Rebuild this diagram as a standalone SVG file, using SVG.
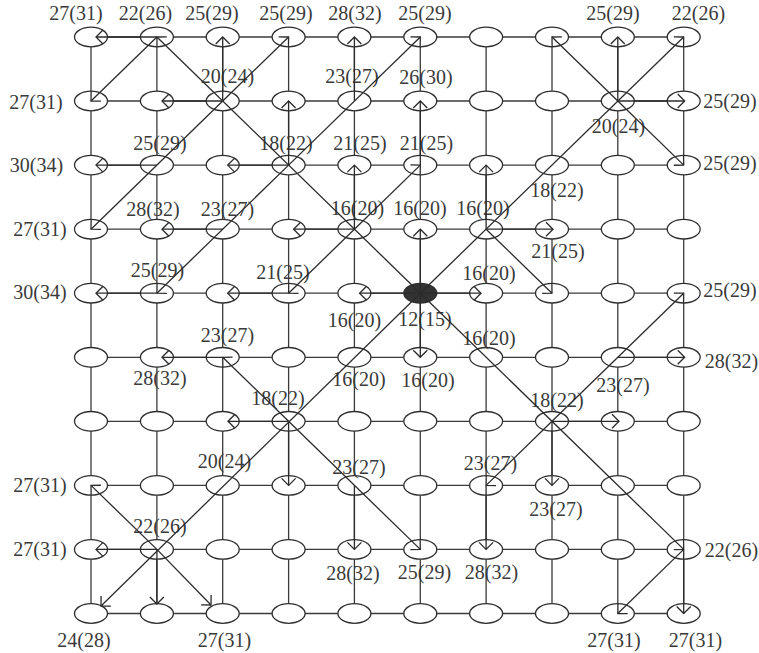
<svg xmlns="http://www.w3.org/2000/svg" width="759" height="653" viewBox="0 0 759 653">
<style>
.g{stroke:#3a3a3a;stroke-width:1.3;fill:none}
.n{fill:#fff;stroke:#2e2e2e;stroke-width:1.3}
.src{fill:#333;stroke:#2e2e2e;stroke-width:1.3}
.a{stroke:#2b2b2b;stroke-width:1.3;fill:none;marker-end:url(#ah)}
.t{font-family:"Liberation Serif","Times New Roman",serif;font-size:20px;fill:#3a3a3a;text-anchor:middle}
</style>
<defs>
<marker id="ah" markerUnits="userSpaceOnUse" markerWidth="20" markerHeight="20" viewBox="-10 -10 20 20" refX="0" refY="0" orient="auto" overflow="visible"><path d="M-7,-7 L0,0 L-7,7" fill="none" stroke="#2b2b2b" stroke-width="1.3"/></marker>
<ellipse id="e" rx="16.5" ry="9.8"/>
</defs>
<g id="connectors-grid">
<line class="g" x1="91" y1="37" x2="683.7" y2="37"/>
<line class="g" x1="91" y1="101" x2="683.7" y2="101"/>
<line class="g" x1="91" y1="165.1" x2="683.7" y2="165.1"/>
<line class="g" x1="91" y1="229.2" x2="683.7" y2="229.2"/>
<line class="g" x1="91" y1="293.2" x2="683.7" y2="293.2"/>
<line class="g" x1="91" y1="357.3" x2="683.7" y2="357.3"/>
<line class="g" x1="91" y1="421.3" x2="683.7" y2="421.3"/>
<line class="g" x1="91" y1="485.4" x2="683.7" y2="485.4"/>
<line class="g" x1="91" y1="549.4" x2="683.7" y2="549.4"/>
<line class="g" x1="91" y1="613.5" x2="683.7" y2="613.5"/>
<line class="g" x1="91" y1="37" x2="91" y2="613.5"/>
<line class="g" x1="156.9" y1="37" x2="156.9" y2="613.5"/>
<line class="g" x1="222.7" y1="37" x2="222.7" y2="613.5"/>
<line class="g" x1="288.6" y1="37" x2="288.6" y2="613.5"/>
<line class="g" x1="354.4" y1="37" x2="354.4" y2="613.5"/>
<line class="g" x1="420.3" y1="37" x2="420.3" y2="613.5"/>
<line class="g" x1="486.1" y1="37" x2="486.1" y2="613.5"/>
<line class="g" x1="552" y1="37" x2="552" y2="613.5"/>
<line class="g" x1="617.8" y1="37" x2="617.8" y2="613.5"/>
<line class="g" x1="683.7" y1="37" x2="683.7" y2="613.5"/>
</g>
<g id="nodes">
<g id="n1_1"><use href="#e" class="n" x="91" y="37"/><text class="t" x="76" y="20">27(31)</text></g>
<g id="n2_1"><use href="#e" class="n" x="156.9" y="37"/><text class="t" x="145.5" y="20">22(26)</text></g>
<g id="n3_1"><use href="#e" class="n" x="222.7" y="37"/><text class="t" x="212" y="20">25(29)</text></g>
<g id="n4_1"><use href="#e" class="n" x="288.6" y="37"/><text class="t" x="286" y="20">25(29)</text></g>
<g id="n5_1"><use href="#e" class="n" x="354.4" y="37"/><text class="t" x="355" y="20">28(32)</text></g>
<g id="n6_1"><use href="#e" class="n" x="420.3" y="37"/><text class="t" x="425" y="20">25(29)</text></g>
<g id="n7_1"><use href="#e" class="n" x="486.1" y="37"/></g>
<g id="n8_1"><use href="#e" class="n" x="552" y="37"/></g>
<g id="n9_1"><use href="#e" class="n" x="617.8" y="37"/><text class="t" x="613" y="20">25(29)</text></g>
<g id="n10_1"><use href="#e" class="n" x="683.7" y="37"/><text class="t" x="698.5" y="20">22(26)</text></g>

<g id="n1_2"><use href="#e" class="n" x="91" y="101"/><text class="t" x="36" y="109">27(31)</text></g>
<g id="n2_2"><use href="#e" class="n" x="156.9" y="101"/></g>
<g id="n3_2"><use href="#e" class="n" x="222.7" y="101"/><text class="t" x="227.5" y="83">20(24)</text></g>
<g id="n4_2"><use href="#e" class="n" x="288.6" y="101"/></g>
<g id="n5_2"><use href="#e" class="n" x="354.4" y="101"/><text class="t" x="352" y="83">23(27)</text></g>
<g id="n6_2"><use href="#e" class="n" x="420.3" y="101"/><text class="t" x="426" y="84">26(30)</text></g>
<g id="n7_2"><use href="#e" class="n" x="486.1" y="101"/></g>
<g id="n8_2"><use href="#e" class="n" x="552" y="101"/></g>
<g id="n9_2"><use href="#e" class="n" x="617.8" y="101"/><text class="t" x="618.5" y="133">20(24)</text></g>
<g id="n10_2"><use href="#e" class="n" x="683.7" y="101"/><text class="t" x="730" y="108">25(29)</text></g>

<g id="n1_3"><use href="#e" class="n" x="91" y="165.1"/><text class="t" x="36.5" y="172">30(34)</text></g>
<g id="n2_3"><use href="#e" class="n" x="156.9" y="165.1"/><text class="t" x="160" y="150">25(29)</text></g>
<g id="n3_3"><use href="#e" class="n" x="222.7" y="165.1"/></g>
<g id="n4_3"><use href="#e" class="n" x="288.6" y="165.1"/><text class="t" x="286" y="150">18(22)</text></g>
<g id="n5_3"><use href="#e" class="n" x="354.4" y="165.1"/><text class="t" x="360" y="150">21(25)</text></g>
<g id="n6_3"><use href="#e" class="n" x="420.3" y="165.1"/><text class="t" x="426.5" y="150">21(25)</text></g>
<g id="n7_3"><use href="#e" class="n" x="486.1" y="165.1"/></g>
<g id="n8_3"><use href="#e" class="n" x="552" y="165.1"/><text class="t" x="557" y="197">18(22)</text></g>
<g id="n9_3"><use href="#e" class="n" x="617.8" y="165.1"/></g>
<g id="n10_3"><use href="#e" class="n" x="683.7" y="165.1"/><text class="t" x="730" y="170">25(29)</text></g>

<g id="n1_4"><use href="#e" class="n" x="91" y="229.2"/><text class="t" x="40" y="236">27(31)</text></g>
<g id="n2_4"><use href="#e" class="n" x="156.9" y="229.2"/><text class="t" x="153" y="216">28(32)</text></g>
<g id="n3_4"><use href="#e" class="n" x="222.7" y="229.2"/><text class="t" x="227.5" y="216">23(27)</text></g>
<g id="n4_4"><use href="#e" class="n" x="288.6" y="229.2"/></g>
<g id="n5_4"><use href="#e" class="n" x="354.4" y="229.2"/><text class="t" x="357.5" y="215">16(20)</text></g>
<g id="n6_4"><use href="#e" class="n" x="420.3" y="229.2"/><text class="t" x="420" y="215">16(20)</text></g>
<g id="n7_4"><use href="#e" class="n" x="486.1" y="229.2"/><text class="t" x="483" y="215">16(20)</text></g>
<g id="n8_4"><use href="#e" class="n" x="552" y="229.2"/><text class="t" x="558" y="258">21(25)</text></g>
<g id="n9_4"><use href="#e" class="n" x="617.8" y="229.2"/></g>
<g id="n10_4"><use href="#e" class="n" x="683.7" y="229.2"/></g>

<g id="n1_5"><use href="#e" class="n" x="91" y="293.2"/><text class="t" x="40" y="299">30(34)</text></g>
<g id="n2_5"><use href="#e" class="n" x="156.9" y="293.2"/><text class="t" x="157.5" y="277">25(29)</text></g>
<g id="n3_5"><use href="#e" class="n" x="222.7" y="293.2"/></g>
<g id="n4_5"><use href="#e" class="n" x="288.6" y="293.2"/><text class="t" x="283" y="279">21(25)</text></g>
<g id="n5_5"><use href="#e" class="n" x="354.4" y="293.2"/><text class="t" x="354.5" y="327">16(20)</text></g>
<g id="n6_5"><use href="#e" class="src" x="420.3" y="293.2"/><text class="t" x="425" y="326">12(15)</text></g>
<g id="n7_5"><use href="#e" class="n" x="486.1" y="293.2"/><text class="t" x="489" y="280">16(20)</text></g>
<g id="n8_5"><use href="#e" class="n" x="552" y="293.2"/></g>
<g id="n9_5"><use href="#e" class="n" x="617.8" y="293.2"/></g>
<g id="n10_5"><use href="#e" class="n" x="683.7" y="293.2"/><text class="t" x="730" y="297">25(29)</text></g>

<g id="n1_6"><use href="#e" class="n" x="91" y="357.3"/></g>
<g id="n2_6"><use href="#e" class="n" x="156.9" y="357.3"/><text class="t" x="160" y="385">28(32)</text></g>
<g id="n3_6"><use href="#e" class="n" x="222.7" y="357.3"/><text class="t" x="227.5" y="342">23(27)</text></g>
<g id="n4_6"><use href="#e" class="n" x="288.6" y="357.3"/></g>
<g id="n5_6"><use href="#e" class="n" x="354.4" y="357.3"/><text class="t" x="359" y="386">16(20)</text></g>
<g id="n6_6"><use href="#e" class="n" x="420.3" y="357.3"/><text class="t" x="428" y="387">16(20)</text></g>
<g id="n7_6"><use href="#e" class="n" x="486.1" y="357.3"/><text class="t" x="489" y="345">16(20)</text></g>
<g id="n8_6"><use href="#e" class="n" x="552" y="357.3"/></g>
<g id="n9_6"><use href="#e" class="n" x="617.8" y="357.3"/><text class="t" x="623" y="392">23(27)</text></g>
<g id="n10_6"><use href="#e" class="n" x="683.7" y="357.3"/><text class="t" x="731.5" y="368">28(32)</text></g>

<g id="n1_7"><use href="#e" class="n" x="91" y="421.3"/></g>
<g id="n2_7"><use href="#e" class="n" x="156.9" y="421.3"/></g>
<g id="n3_7"><use href="#e" class="n" x="222.7" y="421.3"/></g>
<g id="n4_7"><use href="#e" class="n" x="288.6" y="421.3"/><text class="t" x="278" y="405">18(22)</text></g>
<g id="n5_7"><use href="#e" class="n" x="354.4" y="421.3"/></g>
<g id="n6_7"><use href="#e" class="n" x="420.3" y="421.3"/></g>
<g id="n7_7"><use href="#e" class="n" x="486.1" y="421.3"/></g>
<g id="n8_7"><use href="#e" class="n" x="552" y="421.3"/><text class="t" x="557" y="407">18(22)</text></g>
<g id="n9_7"><use href="#e" class="n" x="617.8" y="421.3"/></g>
<g id="n10_7"><use href="#e" class="n" x="683.7" y="421.3"/></g>

<g id="n1_8"><use href="#e" class="n" x="91" y="485.4"/><text class="t" x="40" y="492">27(31)</text></g>
<g id="n2_8"><use href="#e" class="n" x="156.9" y="485.4"/></g>
<g id="n3_8"><use href="#e" class="n" x="222.7" y="485.4"/><text class="t" x="224.5" y="468">20(24)</text></g>
<g id="n4_8"><use href="#e" class="n" x="288.6" y="485.4"/></g>
<g id="n5_8"><use href="#e" class="n" x="354.4" y="485.4"/><text class="t" x="359" y="474">23(27)</text></g>
<g id="n6_8"><use href="#e" class="n" x="420.3" y="485.4"/></g>
<g id="n7_8"><use href="#e" class="n" x="486.1" y="485.4"/><text class="t" x="490.5" y="470">23(27)</text></g>
<g id="n8_8"><use href="#e" class="n" x="552" y="485.4"/><text class="t" x="556" y="516">23(27)</text></g>
<g id="n9_8"><use href="#e" class="n" x="617.8" y="485.4"/></g>
<g id="n10_8"><use href="#e" class="n" x="683.7" y="485.4"/></g>

<g id="n1_9"><use href="#e" class="n" x="91" y="549.4"/><text class="t" x="40" y="556">27(31)</text></g>
<g id="n2_9"><use href="#e" class="n" x="156.9" y="549.4"/><text class="t" x="160" y="533">22(26)</text></g>
<g id="n3_9"><use href="#e" class="n" x="222.7" y="549.4"/></g>
<g id="n4_9"><use href="#e" class="n" x="288.6" y="549.4"/></g>
<g id="n5_9"><use href="#e" class="n" x="354.4" y="549.4"/><text class="t" x="353" y="580">28(32)</text></g>
<g id="n6_9"><use href="#e" class="n" x="420.3" y="549.4"/><text class="t" x="424.5" y="579">25(29)</text></g>
<g id="n7_9"><use href="#e" class="n" x="486.1" y="549.4"/><text class="t" x="491.5" y="579">28(32)</text></g>
<g id="n8_9"><use href="#e" class="n" x="552" y="549.4"/></g>
<g id="n9_9"><use href="#e" class="n" x="617.8" y="549.4"/></g>
<g id="n10_9"><use href="#e" class="n" x="683.7" y="549.4"/><text class="t" x="731.5" y="557">22(26)</text></g>

<g id="n1_10"><use href="#e" class="n" x="91" y="613.5"/><text class="t" x="84" y="647">24(28)</text></g>
<g id="n2_10"><use href="#e" class="n" x="156.9" y="613.5"/></g>
<g id="n3_10"><use href="#e" class="n" x="222.7" y="613.5"/><text class="t" x="224.5" y="647">27(31)</text></g>
<g id="n4_10"><use href="#e" class="n" x="288.6" y="613.5"/></g>
<g id="n5_10"><use href="#e" class="n" x="354.4" y="613.5"/></g>
<g id="n6_10"><use href="#e" class="n" x="420.3" y="613.5"/></g>
<g id="n7_10"><use href="#e" class="n" x="486.1" y="613.5"/></g>
<g id="n8_10"><use href="#e" class="n" x="552" y="613.5"/></g>
<g id="n9_10"><use href="#e" class="n" x="617.8" y="613.5"/><text class="t" x="614" y="647">27(31)</text></g>
<g id="n10_10"><use href="#e" class="n" x="683.7" y="613.5"/><text class="t" x="695.5" y="647">27(31)</text></g>
</g>
<g id="connectors-arrows">
<line class="a" x1="156.9" y1="37" x2="96" y2="37"/>
<line class="a" x1="222.7" y1="101" x2="222.7" y2="37"/>
<line class="a" x1="222.7" y1="101" x2="162" y2="101"/>
<line class="a" x1="288.6" y1="165.1" x2="288.6" y2="101"/>
<line class="a" x1="354.4" y1="101" x2="354.4" y2="37"/>
<line class="a" x1="156.9" y1="165.1" x2="96" y2="165.1"/>
<line class="a" x1="288.6" y1="165.1" x2="227.7" y2="165.1"/>
<line class="a" x1="354.4" y1="229.2" x2="354.4" y2="165.1"/>
<line class="a" x1="420.3" y1="165.1" x2="420.3" y2="101"/>
<line class="a" x1="420.3" y1="293.2" x2="420.3" y2="229.2"/>
<line class="a" x1="486.1" y1="229.2" x2="486.1" y2="165.1"/>
<line class="a" x1="617.8" y1="101" x2="617.8" y2="37"/>
<line class="a" x1="617.8" y1="101" x2="684.7" y2="101"/>
<line class="a" x1="486.1" y1="229.2" x2="553" y2="229.2"/>
<line class="a" x1="420.3" y1="293.2" x2="481" y2="293.2"/>
<line class="a" x1="420.3" y1="293.2" x2="420.3" y2="357.3"/>
<line class="a" x1="617.8" y1="357.3" x2="684.7" y2="357.3"/>
<line class="a" x1="552" y1="421.3" x2="619" y2="421.3"/>
<line class="a" x1="552" y1="421.3" x2="552" y2="485.4"/>
<line class="a" x1="486.1" y1="485.4" x2="486.1" y2="549.4"/>
<line class="a" x1="683.7" y1="549.4" x2="683.7" y2="613.5"/>
<line class="a" x1="222.7" y1="229.2" x2="162" y2="229.2"/>
<line class="a" x1="354.4" y1="229.2" x2="293.6" y2="229.2"/>
<line class="a" x1="156.9" y1="293.2" x2="96" y2="293.2"/>
<line class="a" x1="288.6" y1="293.2" x2="227.7" y2="293.2"/>
<line class="a" x1="420.3" y1="293.2" x2="359.6" y2="293.2"/>
<line class="a" x1="222.7" y1="357.3" x2="162" y2="357.3"/>
<line class="a" x1="288.6" y1="421.3" x2="228" y2="421.3"/>
<line class="a" x1="288.6" y1="421.3" x2="288.6" y2="485.4"/>
<line class="a" x1="156.9" y1="549.4" x2="96" y2="549.4"/>
<line class="a" x1="156.9" y1="549.4" x2="156.9" y2="604"/>
<line class="a" x1="354.4" y1="485.4" x2="354.4" y2="549.4"/>
<line class="a" x1="156.9" y1="37" x2="91" y2="101"/>
<line class="a" x1="420.3" y1="293.2" x2="156.9" y2="37"/>
<line class="a" x1="222.7" y1="101" x2="288.6" y2="37"/>
<line class="a" x1="222.7" y1="101" x2="91" y2="229.2"/>
<line class="a" x1="288.6" y1="165.1" x2="420.3" y2="37"/>
<line class="a" x1="288.6" y1="165.1" x2="156.9" y2="293.2"/>
<line class="a" x1="354.4" y1="229.2" x2="420.3" y2="165.1"/>
<line class="a" x1="354.4" y1="229.2" x2="288.6" y2="293.2"/>
<line class="a" x1="617.8" y1="101" x2="552" y2="37"/>
<line class="a" x1="617.8" y1="101" x2="683.7" y2="165.1"/>
<line class="a" x1="420.3" y1="293.2" x2="683.7" y2="37"/>
<line class="a" x1="486.1" y1="229.2" x2="552" y2="293.2"/>
<line class="a" x1="552" y1="421.3" x2="683.7" y2="293.2"/>
<line class="a" x1="552" y1="421.3" x2="486.1" y2="485.4"/>
<line class="a" x1="420.3" y1="293.2" x2="683.7" y2="549.4"/>
<line class="a" x1="683.7" y1="549.4" x2="617.8" y2="613.5"/>
<line class="a" x1="288.6" y1="421.3" x2="222.7" y2="357.3"/>
<line class="a" x1="288.6" y1="421.3" x2="420.3" y2="549.4"/>
<line class="a" x1="420.3" y1="293.2" x2="101" y2="606"/>
<line class="a" x1="156.9" y1="549.4" x2="91" y2="485.4"/>
<line class="a" x1="156.9" y1="549.4" x2="211" y2="605"/>
</g>
</svg>
